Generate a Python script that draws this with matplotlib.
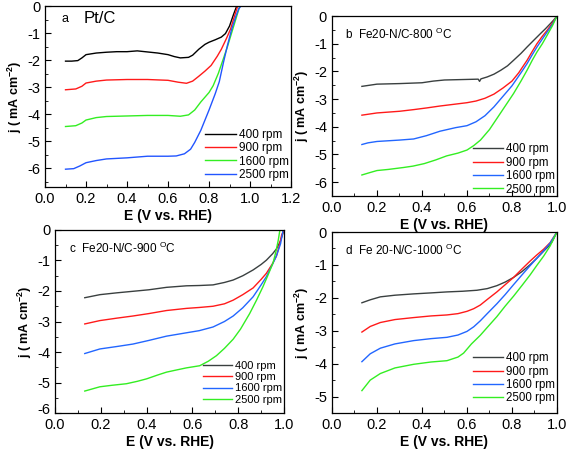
import matplotlib
matplotlib.use("Agg")
import matplotlib.pyplot as plt
import matplotlib.transforms as mtransforms
from matplotlib.ticker import MultipleLocator

plt.rcParams["font.family"] = ["Liberation Sans", "DejaVu Sans"]
plt.rcParams["mathtext.fontset"] = "custom"
plt.rcParams["mathtext.rm"] = "Liberation Sans"
plt.rcParams["mathtext.bf"] = "Liberation Sans:bold"
plt.rcParams["axes.unicode_minus"] = False

labels = ["400 rpm", "900 rpm", "1600 rpm", "2500 rpm"]

# (E, j) points, order: 400, 900, 1600, 2500 rpm
pt_c = [
    [(0.10, -2.04), (0.13, -2.04), (0.16, -2.02), (0.18, -1.92), (0.20, -1.80), (0.25, -1.74),
     (0.30, -1.71), (0.35, -1.69), (0.40, -1.69), (0.45, -1.66), (0.50, -1.70), (0.55, -1.74),
     (0.60, -1.80), (0.63, -1.87), (0.66, -1.92), (0.70, -1.90), (0.72, -1.82), (0.75, -1.60),
     (0.78, -1.42), (0.80, -1.34), (0.83, -1.25), (0.86, -1.15), (0.88, -1.02), (0.90, -0.74),
     (0.92, -0.30), (0.935, 0.0)],
    [(0.10, -3.10), (0.15, -3.07), (0.18, -2.97), (0.20, -2.85), (0.25, -2.78), (0.30, -2.74),
     (0.40, -2.72), (0.50, -2.72), (0.60, -2.75), (0.65, -2.82), (0.69, -2.86), (0.72, -2.78),
     (0.75, -2.60), (0.78, -2.41), (0.81, -2.20), (0.84, -1.86), (0.86, -1.60), (0.885, -1.20),
     (0.905, -0.85), (0.925, -0.35), (0.94, 0.0)],
    [(0.10, -4.46), (0.15, -4.43), (0.18, -4.33), (0.20, -4.22), (0.25, -4.13), (0.30, -4.09),
     (0.40, -4.07), (0.50, -4.05), (0.60, -4.05), (0.66, -4.08), (0.70, -4.03), (0.73, -3.85),
     (0.76, -3.55), (0.80, -3.20), (0.82, -2.95), (0.845, -2.50), (0.87, -1.95), (0.89, -1.50),
     (0.91, -1.00), (0.93, -0.50), (0.95, 0.0)],
    [(0.10, -6.04), (0.14, -6.02), (0.17, -5.92), (0.20, -5.80), (0.25, -5.72), (0.30, -5.66),
     (0.40, -5.62), (0.50, -5.56), (0.60, -5.56), (0.64, -5.55), (0.68, -5.47), (0.71, -5.30),
     (0.73, -5.05), (0.76, -4.60), (0.80, -3.85), (0.83, -3.25), (0.85, -2.80), (0.87, -2.10),
     (0.89, -1.45), (0.91, -0.87), (0.93, -0.40), (0.945, -0.10), (0.956, 0.0)],
]

fe_800 = [
    [(0.133, -2.54), (0.20, -2.46), (0.30, -2.44), (0.40, -2.41), (0.45, -2.35), (0.50, -2.31),
     (0.60, -2.29), (0.65, -2.28), (0.656, -2.36), (0.662, -2.27), (0.69, -2.20), (0.72, -2.10),
     (0.75, -1.96), (0.78, -1.80), (0.807, -1.60), (0.84, -1.35), (0.867, -1.12), (0.90, -0.85),
     (0.926, -0.64), (0.95, -0.45), (0.97, -0.28), (0.985, -0.15), (1.0, 0.0)],
    [(0.133, -3.58), (0.20, -3.50), (0.30, -3.44), (0.363, -3.38), (0.42, -3.32), (0.48, -3.25),
     (0.55, -3.18), (0.60, -3.13), (0.64, -3.07), (0.68, -2.97), (0.72, -2.82), (0.76, -2.60),
     (0.80, -2.35), (0.83, -2.05), (0.867, -1.60), (0.89, -1.28), (0.911, -1.00), (0.935, -0.73),
     (0.956, -0.52), (0.98, -0.25), (1.0, 0.0)],
    [(0.133, -4.64), (0.16, -4.58), (0.20, -4.53), (0.30, -4.48), (0.363, -4.44), (0.42, -4.32),
     (0.48, -4.16), (0.55, -4.03), (0.60, -3.96), (0.64, -3.82), (0.68, -3.60), (0.72, -3.28),
     (0.76, -2.90), (0.80, -2.52), (0.84, -2.05), (0.867, -1.72), (0.89, -1.40), (0.911, -1.12),
     (0.935, -0.83), (0.956, -0.58), (0.98, -0.30), (1.0, 0.0)],
    [(0.133, -5.74), (0.17, -5.65), (0.20, -5.58), (0.25, -5.54), (0.318, -5.47), (0.36, -5.42),
     (0.41, -5.33), (0.46, -5.20), (0.51, -5.05), (0.56, -4.95), (0.60, -4.84), (0.63, -4.68),
     (0.66, -4.48), (0.70, -4.10), (0.733, -3.70), (0.77, -3.25), (0.807, -2.80), (0.84, -2.35),
     (0.867, -1.96), (0.89, -1.60), (0.911, -1.30), (0.935, -1.00), (0.956, -0.70), (0.98, -0.35),
     (1.0, 0.0)],
]

fe_900 = [
    [(0.13, -2.22), (0.196, -2.12), (0.27, -2.06), (0.34, -2.01), (0.41, -1.96), (0.487, -1.88),
     (0.574, -1.83), (0.63, -1.82), (0.69, -1.80), (0.74, -1.72), (0.778, -1.64), (0.82, -1.50),
     (0.865, -1.31), (0.90, -1.13), (0.923, -0.99), (0.95, -0.78), (0.967, -0.62), (0.985, -0.35),
     (1.0, 0.0)],
    [(0.13, -3.08), (0.196, -2.97), (0.27, -2.89), (0.34, -2.82), (0.41, -2.74), (0.487, -2.64),
     (0.574, -2.57), (0.63, -2.54), (0.69, -2.50), (0.74, -2.42), (0.778, -2.30), (0.82, -2.12),
     (0.865, -1.90), (0.90, -1.62), (0.923, -1.42), (0.95, -1.10), (0.967, -0.85), (0.98, -0.50),
     (0.99, -0.15), (1.0, 0.0)],
    [(0.13, -4.05), (0.196, -3.90), (0.27, -3.82), (0.34, -3.74), (0.41, -3.62), (0.487, -3.48),
     (0.574, -3.37), (0.63, -3.30), (0.69, -3.18), (0.74, -3.00), (0.778, -2.82), (0.82, -2.55),
     (0.865, -2.19), (0.90, -1.80), (0.923, -1.53), (0.95, -1.12), (0.967, -0.85), (0.985, -0.45),
     (0.995, -0.05)],
    [(0.13, -5.28), (0.196, -5.14), (0.25, -5.09), (0.312, -5.04), (0.36, -4.96), (0.40, -4.88),
     (0.45, -4.75), (0.487, -4.66), (0.53, -4.59), (0.574, -4.52), (0.632, -4.45), (0.67, -4.30),
     (0.705, -4.12), (0.74, -3.88), (0.778, -3.58), (0.81, -3.25), (0.85, -2.74), (0.88, -2.30),
     (0.908, -1.86), (0.93, -1.48), (0.952, -1.08), (0.965, -0.70), (0.975, -0.33), (0.982, 0.0)],
]

fe_1000 = [
    [(0.133, -2.15), (0.17, -2.06), (0.215, -1.97), (0.28, -1.92), (0.363, -1.88), (0.44, -1.85),
     (0.511, -1.82), (0.58, -1.80), (0.644, -1.77), (0.69, -1.72), (0.733, -1.63), (0.77, -1.52),
     (0.807, -1.38), (0.845, -1.20), (0.881, -0.99), (0.91, -0.80), (0.941, -0.58), (0.96, -0.45),
     (0.978, -0.30), (1.0, 0.0)],
    [(0.133, -3.04), (0.17, -2.87), (0.215, -2.75), (0.28, -2.66), (0.363, -2.60), (0.44, -2.55),
     (0.511, -2.52), (0.56, -2.48), (0.60, -2.41), (0.63, -2.33), (0.659, -2.22), (0.69, -2.05),
     (0.733, -1.82), (0.77, -1.60), (0.807, -1.38), (0.845, -1.12), (0.881, -0.88), (0.91, -0.70),
     (0.941, -0.52), (0.97, -0.32), (1.0, 0.0)],
    [(0.133, -3.94), (0.17, -3.70), (0.215, -3.53), (0.28, -3.40), (0.363, -3.30), (0.44, -3.24),
     (0.511, -3.20), (0.56, -3.13), (0.60, -3.02), (0.63, -2.88), (0.659, -2.70), (0.69, -2.48),
     (0.733, -2.18), (0.77, -1.90), (0.807, -1.60), (0.845, -1.30), (0.881, -1.02), (0.91, -0.80),
     (0.941, -0.57), (0.97, -0.33), (1.0, 0.0)],
    [(0.133, -4.82), (0.17, -4.50), (0.215, -4.30), (0.28, -4.13), (0.363, -4.02), (0.44, -3.95),
     (0.511, -3.91), (0.56, -3.80), (0.585, -3.68), (0.62, -3.40), (0.659, -3.14), (0.69, -2.90),
     (0.733, -2.57), (0.77, -2.25), (0.807, -1.95), (0.845, -1.62), (0.881, -1.30), (0.91, -1.02),
     (0.941, -0.73), (0.97, -0.42), (1.0, 0.0)],
]

colors_a = ["#000000", "#ff1a1a", "#33ee22", "#2255ff"]
colors_fe = ["#3a4040", "#ff1a1a", "#2266ff", "#33ee22"]

fig = plt.figure(figsize=(5.67, 4.5), dpi=100)

panels = [
    # rect, curves, colors, xlim, ylim, yticks, letter, name, name size, legend anchor, legend size
    ([0.0794, 0.5844, 0.4339, 0.4022], pt_c, colors_a, (0, 1.2), (-6.7, 0), range(-6, 1),
     "a", "Pt/C", 12, (1.0, 0.02), 8.5),
    ([0.5855, 0.5644, 0.3968, 0.4000], fe_800, colors_fe, (0, 1.0), (-6.5, 0), range(-6, 1),
     "b", "Fe20-N/C-800 $^{\\rm O}$C", 8.5, (1.0, -0.01), 8.3),
    ([0.0970, 0.0822, 0.4039, 0.4067], fe_900, colors_fe, (0, 1.0), (-6, 0), range(-6, 1),
     "c", "Fe20-N/C-900 $^{\\rm O}$C", 8.5, (1.0, 0.033), 8.0),
    ([0.5855, 0.0822, 0.3968, 0.4022], fe_1000, colors_fe, (0, 1.0), (-5.5, 0), range(-5, 1),
     "d", "Fe 20-N/C-1000 $^{\\rm O}$C", 8.5, (1.0, 0.035), 8.3),
]

for rect, curves, cols, xl, yl, yt, letter, name, nsize, anchor, lsize in panels:
    ax = fig.add_axes(rect)
    for pts, c, lab in zip(curves, cols, labels):
        e, j = zip(*pts)
        ax.plot(e, j, color=c, lw=1.0, label=lab)
    ax.set_xlim(*xl)
    ax.set_ylim(*yl)
    ax.set_yticks(list(yt))
    ax.xaxis.set_major_locator(MultipleLocator(0.2))
    ax.xaxis.set_minor_locator(MultipleLocator(0.1))
    ax.yaxis.set_minor_locator(MultipleLocator(0.5))
    ax.xaxis.set_major_formatter(plt.FormatStrFormatter("%.1f"))
    ax.tick_params(which="both", direction="in", top=False, right=False, labelsize=10.5)
    ax.tick_params(which="major", length=4)
    ax.tick_params(which="minor", length=2)
    for s in ax.spines.values():
        s.set_linewidth(0.9)
    ax.set_xlabel("E (V vs. RHE)", fontsize=10, fontweight="bold", labelpad=2)
    ax.set_ylabel("j ( mA cm$^{\\mathbf{-2}}$)", fontsize=9, fontweight="bold", labelpad=2)
    if letter == "a":
        ax.text(0.065, 0.93, "a", transform=ax.transAxes, fontsize=9, va="center")
        ax.text(0.155, 0.93, name, transform=ax.transAxes, fontsize=nsize, va="center")
    else:
        ax.text(0.06, 0.9, letter + "  " + name, transform=ax.transAxes,
                fontsize=nsize, va="center")
    if letter == "c":
        # bottom y label sits right on top of the first x label; nudge it up a bit
        lowest = ax.get_yticklabels()[0]
        lowest.set_transform(lowest.get_transform() +
                             mtransforms.ScaledTranslation(0, 3 / 72, fig.dpi_scale_trans))
    ax.legend(loc="lower right", bbox_to_anchor=anchor, frameon=False, fontsize=lsize,
              handlelength=2.6, handletextpad=0.25, labelspacing=0.12, borderaxespad=0.0,
              borderpad=0.2)

fig.savefig("out.png", dpi=100)
